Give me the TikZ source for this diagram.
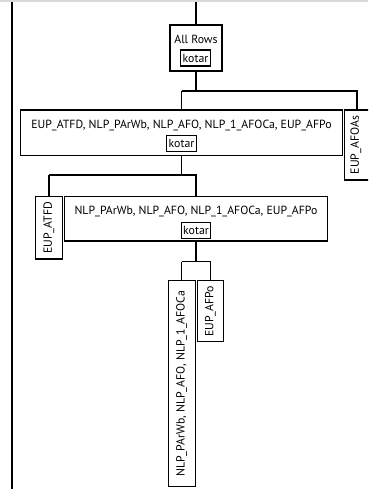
\documentclass[tikz,border=0pt]{standalone}
\usepackage{fontspec}
\setmainfont{PT Sans}
\begin{document}
\begin{tikzpicture}[x=1pt,y=-1pt,
  box/.style={draw=black,line width=1.1pt,inner sep=0pt,fill=white},
  kbox/.style={draw=black,line width=1.1pt,inner sep=2pt,minimum height=16pt,font=\fontsize{11.8}{13}\selectfont},
  lbl/.style={inner sep=0pt,font=\fontsize{11.8}{13}\selectfont},
  conn/.style={draw=black,line width=1.1pt}]
\useasboundingbox (0,0) rectangle (368,489);
\clip (0,0) rectangle (368,489);
\fill[gray!30] (0,0) rectangle (368,2.5);
\draw[line width=1.1pt] (12,2.5) -- (12,489);
% boxes
\node[box,minimum width=52pt,minimum height=46pt] (allrows) at (196,48) {};
\node[lbl] (allrowst) at (196,39) {All Rows};
\node[kbox] (k0) at (195.5,58) {kotar};
\node[box,minimum width=321.6pt,minimum height=45.7pt] (b1) at (181.5,132.85) {};
\node[lbl] (b1t) at (181.5,126) {EUP\_ATFD, NLP\_PArWb, NLP\_AFO, NLP\_1\_AFOCa, EUP\_AFPo};
\node[kbox] (k1) at (181.5,143.5) {kotar};
\node[box,rotate=90,minimum width=70pt,minimum height=25pt] (afoas) at (357,145) {};
\node[lbl,rotate=90] (afoast) at (356,145) {EUP\_AFOAs};
\node[box,rotate=90,minimum width=62.3pt,minimum height=26.6pt] (atfd) at (49,227.85) {};
\node[lbl,rotate=90] (atfdt) at (49,227.85) {EUP\_ATFD};
\node[box,minimum width=263.4pt,minimum height=44.3pt] (b2) at (196,218.85) {};
\node[lbl] (b2t) at (196,211.7) {NLP\_PArWb, NLP\_AFO, NLP\_1\_AFOCa, EUP\_AFPo};
\node[kbox] (k2) at (196,230.5) {kotar};
\node[box,rotate=90,minimum width=206pt,minimum height=26.7pt] (n3) at (181.7,383.7) {};
\node[lbl,rotate=90] (n3t) at (181.7,383.7) {NLP\_PArWb, NLP\_AFO, NLP\_1\_AFOCa};
\node[box,rotate=90,minimum width=61pt,minimum height=26pt] (afpo) at (210.3,311.2) {};
\node[lbl,rotate=90] (afpot) at (210.3,311.2) {EUP\_AFPo};
% connectors
\coordinate (top) at (196,2.5);
\coordinate (j1) at (196,91);
\coordinate (j2) at (181.5,175);
\coordinate (j3) at (196,261.7);
\draw[conn] (top) -- (allrows.north);
\draw[conn] (allrows.south) -- (j1);
\draw[conn] (j1 -| b1.north) -- (j1 -| afoas.east) -- (afoas.east);
\draw[conn] (j1 -| b1.north) -- (b1.north);
\draw[conn] (b1.south) -- (j2);
\draw[conn] (j2 -| atfd.east) -- (j2 -| b2.north) -- (b2.north);
\draw[conn] (j2 -| atfd.east) -- (atfd.east);
\draw[conn] (b2.south) -- (j3);
\draw[conn] (j3 -| n3.east) -- (j3 -| afpo.east) -- (afpo.east);
\draw[conn] (j3 -| n3.east) -- (n3.east);
\end{tikzpicture}
\end{document}
